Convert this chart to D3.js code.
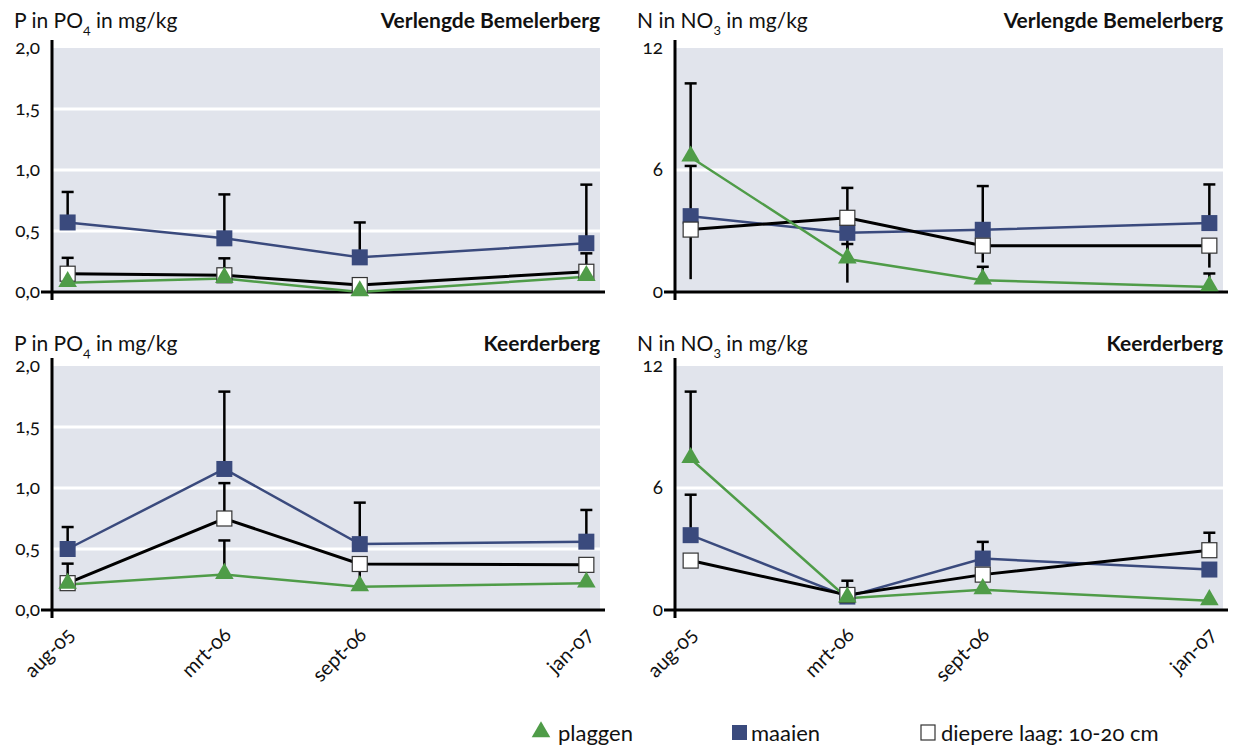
<!DOCTYPE html>
<html>
<head>
<meta charset="utf-8">
<script src="https://cdn.jsdelivr.net/npm/d3@7"></script>
<style>
  body { margin: 0; background: #fff; }
  svg text { font-family: Lato, "Open Sans", sans-serif; fill: #111; font-variant-numeric: oldstyle-nums; }
</style>
</head>
<body>
<svg id="chart" width="1241" height="746"></svg>
<script>
// sampling moments (x categories) and their relative place on the time axis
const dates = ["aug-05", "mrt-06", "sept-06", "jan-07"];
const datePos = [0.025, 0.312, 0.56, 0.975];

// P in PO4, Verlengde Bemelerberg
const pVerlPlaggen = [0.076, 0.11, 0.0, 0.125];
const pVerlMaaien = [0.57, 0.44, 0.284, 0.40];
const pVerlDiep = [0.15, 0.137, 0.057, 0.166];
const pVerlMaaienUp = [0.82, 0.80, 0.57, 0.88];
const pVerlDiepUp = [0.28, 0.276, null, 0.317];

// N in NO3, Verlengde Bemelerberg
const nVerlPlaggen = [6.63, 1.62, 0.58, 0.25];
const nVerlMaaien = [3.73, 2.91, 3.06, 3.39];
const nVerlDiep = [3.07, 3.65, 2.28, 2.28];
const nVerlPlaggenUp = [10.26, 2.36, 1.24, 0.91];
const nVerlMaaienUp = [6.2, 5.12, 5.21, 5.29];
const nVerlDiepLo = [0.63, 0.46, 1.45, 1.2];

// P in PO4, Keerderberg
const pKeerPlaggen = [0.21, 0.29, 0.19, 0.22];
const pKeerMaaien = [0.50, 1.156, 0.54, 0.56];
const pKeerDiep = [0.22, 0.75, 0.377, 0.37];
const pKeerPlaggenUp = [null, 0.57, null, null];
const pKeerMaaienUp = [0.68, 1.79, 0.88, 0.82];
const pKeerDiepUp = [0.38, 1.04, null, null];
const pKeerDiepLo = [null, null, 0.2, null];

// N in NO3, Keerderberg
const nKeerPlaggen = [7.44, 0.58, 0.99, 0.45];
const nKeerMaaien = [3.68, 0.66, 2.53, 1.99];
const nKeerDiep = [2.43, 0.74, 1.74, 2.94];
const nKeerPlaggenUp = [10.74, null, null, null];
const nKeerMaaienUp = [5.67, 1.44, 3.35, null];
const nKeerDiepUp = [null, null, null, 3.8];

const pTicks = [0, 0.5, 1, 1.5, 2];
const nTicks = [0, 6, 12];
const legendLabels = ["plaggen", "maaien", "diepere laag: 10-20 cm"];

const green = "#4f9c48";
const navy = "#3a4a7d";

const svg = d3.select("#chart");
const plotW = 548, plotH = 244;

const panels = [
  { left: 52, top: 48, titleY: 28, unit: ["P in PO", "4", " in mg/kg"], site: "Verlengde Bemelerberg",
    ticks: pTicks, fmt: (d) => d3.format(".1f")(d).replace(".", ","),
    plaggen: [pVerlPlaggen, null, null],
    maaien: [pVerlMaaien, pVerlMaaienUp, null],
    diep: [pVerlDiep, pVerlDiepUp, null] },
  { left: 675, top: 48, titleY: 28, unit: ["N in NO", "3", " in mg/kg"], site: "Verlengde Bemelerberg",
    ticks: nTicks, fmt: d3.format("d"),
    plaggen: [nVerlPlaggen, nVerlPlaggenUp, null],
    maaien: [nVerlMaaien, nVerlMaaienUp, null],
    diep: [nVerlDiep, null, nVerlDiepLo] },
  { left: 52, top: 366, titleY: 351, unit: ["P in PO", "4", " in mg/kg"], site: "Keerderberg",
    ticks: pTicks, fmt: (d) => d3.format(".1f")(d).replace(".", ","),
    plaggen: [pKeerPlaggen, pKeerPlaggenUp, null],
    maaien: [pKeerMaaien, pKeerMaaienUp, null],
    diep: [pKeerDiep, pKeerDiepUp, pKeerDiepLo] },
  { left: 675, top: 366, titleY: 351, unit: ["N in NO", "3", " in mg/kg"], site: "Keerderberg",
    ticks: nTicks, fmt: d3.format("d"),
    plaggen: [nKeerPlaggen, nKeerPlaggenUp, null],
    maaien: [nKeerMaaien, nKeerMaaienUp, null],
    diep: [nKeerDiep, nKeerDiepUp, null] }
];

const tri = d3.symbol().type(d3.symbolTriangle).size(150);

panels.forEach((p, pi) => {
  const g = svg.append("g");
  const x = d3.scaleLinear().domain([0, 1]).range([p.left + 2, p.left + plotW]);
  const y = d3.scaleLinear().domain([0, d3.max(p.ticks)]).range([p.top + plotH, p.top]);

  // background and grid
  g.append("rect")
    .attr("x", p.left).attr("y", p.top)
    .attr("width", plotW).attr("height", plotH)
    .attr("fill", "#e1e4ec");
  g.selectAll(".grid")
    .data(p.ticks.slice(1, -1))
    .enter().append("line")
    .attr("x1", p.left).attr("x2", p.left + plotW)
    .attr("y1", (d) => y(d)).attr("y2", (d) => y(d))
    .attr("stroke", "#fff").attr("stroke-width", 3);

  // tick labels
  g.selectAll(".tl")
    .data(p.ticks)
    .enter().append("text")
    .attr("x", p.left - 12)
    .attr("y", (d) => y(d) + 6)
    .attr("text-anchor", "end")
    .style("font-size", "19px")
    .text(p.fmt);

  // axes
  g.append("line")
    .attr("x1", p.left - 11).attr("x2", p.left + plotW + 5)
    .attr("y1", y(0)).attr("y2", y(0))
    .attr("stroke", "#000").attr("stroke-width", 3);
  g.append("line")
    .attr("x1", p.left).attr("x2", p.left)
    .attr("y1", p.top - 8).attr("y2", y(0) + 8)
    .attr("stroke", "#000").attr("stroke-width", 3);

  // titles
  const ut = g.append("text")
    .attr("x", p.left - 38).attr("y", p.titleY)
    .style("font-size", "21px");
  ut.append("tspan").text(p.unit[0]);
  ut.append("tspan").attr("dy", 6).style("font-size", "14px").text(p.unit[1]);
  ut.append("tspan").attr("dy", -6).text(p.unit[2]);
  g.append("text")
    .attr("x", p.left + plotW).attr("y", p.titleY)
    .attr("text-anchor", "end")
    .style("font-size", "21px").style("font-weight", "bold")
    .text(p.site);

  // x labels on the bottom row only
  if (pi >= 2) {
    g.selectAll(".xl")
      .data(dates)
      .enter().append("text")
      .attr("text-anchor", "end")
      .attr("transform", (d, i) => `translate(${x(datePos[i]) + 8}, ${y(0) + 26}) rotate(-45)`)
      .style("font-size", "20px")
      .text((d) => d);
  }

  const series = [
    { key: "maaien", color: navy, d: p.maaien },
    { key: "diep", color: "#000", d: p.diep },
    { key: "plaggen", color: green, d: p.plaggen }
  ];

  // error bars
  series.forEach((s) => {
    const vals = s.d[0];
    const up = s.d[1] || vals.map(() => null);
    const lo = s.d[2] || vals.map(() => null);
    vals.forEach((v, i) => {
      if (up[i] != null) {
        g.append("line")
          .attr("x1", x(datePos[i])).attr("x2", x(datePos[i]))
          .attr("y1", y(v)).attr("y2", y(up[i]))
          .attr("stroke", "#000").attr("stroke-width", 2.5);
        g.append("line")
          .attr("x1", x(datePos[i]) - 6).attr("x2", x(datePos[i]) + 6)
          .attr("y1", y(up[i])).attr("y2", y(up[i]))
          .attr("stroke", "#000").attr("stroke-width", 2.5);
      }
      if (lo[i] != null) {
        g.append("line")
          .attr("x1", x(datePos[i])).attr("x2", x(datePos[i]))
          .attr("y1", y(v)).attr("y2", y(lo[i]))
          .attr("stroke", "#000").attr("stroke-width", 2.5);
      }
    });
  });

  // lines
  const line = d3.line().x((d, i) => x(datePos[i])).y((d) => y(d));
  series.forEach((s) => {
    g.append("path")
      .attr("d", line(s.d[0]))
      .attr("fill", "none")
      .attr("stroke", s.color)
      .attr("stroke-width", s.key === "diep" ? 3 : 2.5);
  });

  // markers
  g.selectAll(".m-maaien")
    .data(p.maaien[0]).enter().append("rect")
    .attr("x", (d, i) => x(datePos[i]) - 8).attr("y", (d) => y(d) - 8)
    .attr("width", 16).attr("height", 16)
    .attr("fill", navy);
  g.selectAll(".m-diep")
    .data(p.diep[0]).enter().append("rect")
    .attr("x", (d, i) => x(datePos[i]) - 7.5).attr("y", (d) => y(d) - 7.5)
    .attr("width", 15).attr("height", 15)
    .attr("fill", "#fff").attr("stroke", "#333").attr("stroke-width", 1.2);
  g.selectAll(".m-plaggen")
    .data(p.plaggen[0]).enter().append("path")
    .attr("d", tri)
    .attr("transform", (d, i) => `translate(${x(datePos[i])}, ${y(d) - 1})`)
    .attr("fill", green);
});

// legend
const legend = svg.append("g").attr("transform", "translate(0, 733)");
legend.append("path").attr("d", tri)
  .attr("transform", "translate(541, -1)").attr("fill", green);
legend.append("rect").attr("x", 732).attr("y", -8).attr("width", 15).attr("height", 15).attr("fill", navy);
legend.append("rect").attr("x", 921).attr("y", -8).attr("width", 14).attr("height", 15)
  .attr("fill", "#fff").attr("stroke", "#333").attr("stroke-width", 1.2);
const lx = [558, 751, 941];
legend.selectAll(".lt")
  .data(legendLabels).enter().append("text")
  .attr("x", (d, i) => lx[i]).attr("y", 8)
  .style("font-size", "22px")
  .text((d) => d);
</script>
</body>
</html>
